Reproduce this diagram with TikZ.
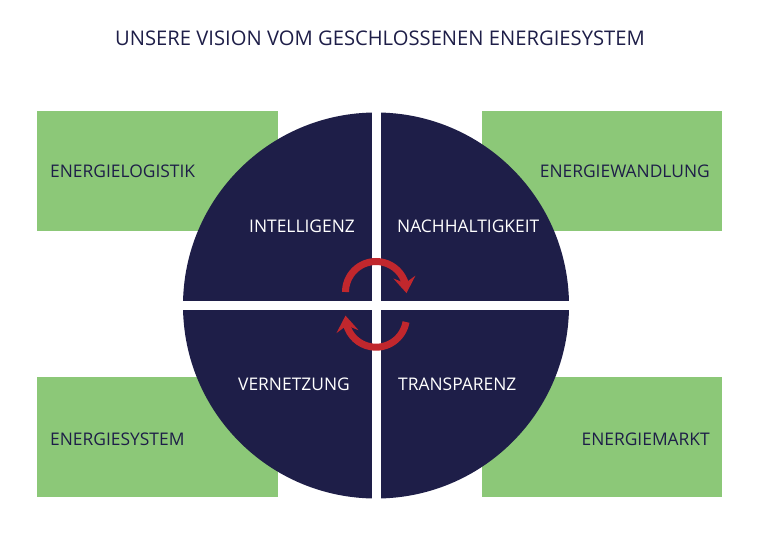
\documentclass[tikz,border=0pt]{standalone}
\usepackage{fontspec}
\setmainfont{Open Sans}
\usetikzlibrary{arrows.meta,bending}
\definecolor{navy}{HTML}{1E1E48}
\definecolor{leaf}{HTML}{8CC878}
\definecolor{redarrow}{HTML}{C1272D}
\begin{document}
\begin{tikzpicture}[x=1pt,y=-1pt,
  greenbox/.style={fill=leaf,draw=none},
  darklabel/.style={text=navy,font=\fontsize{17.4}{20}\selectfont,inner sep=0pt},
  lightlabel/.style={text=white,font=\fontsize{17.4}{20}\selectfont,inner sep=0pt},
  cyclearrow/.style={draw=redarrow,line width=7pt,-{Stealth[length=16pt,width=22pt,inset=6pt,flex]}}]
\useasboundingbox (0,0) rectangle (760,535);
% title
\node[text=navy,font=\fontsize{20.2}{24}\selectfont,inner sep=0pt] (title) at (380,38) {UNSERE VISION VOM GESCHLOSSENEN ENERGIESYSTEM};
% green boxes
\fill[greenbox] (37,111) rectangle (278,231);
\fill[greenbox] (482,111) rectangle (722,231);
\fill[greenbox] (37,377) rectangle (278,497);
\fill[greenbox] (482,377) rectangle (722,497);
% circle quadrants
\coordinate (c) at (376,305.5);
\fill[navy] (c) circle[radius=193];
\begin{scope}
\clip (c) circle[radius=194];
\fill[white] (371.5,100) rectangle (380.5,510);
\fill[white] (170,301) rectangle (580,310);
\end{scope}
% labels
\node[darklabel,anchor=west] (logistik) at (50,171) {ENERGIELOGISTIK};
\node[darklabel,anchor=east] (wandlung) at (710,171) {ENERGIEWANDLUNG};
\node[darklabel,anchor=west] (system) at (50,439) {ENERGIESYSTEM};
\node[darklabel,anchor=east] (markt) at (710,439) {ENERGIEMARKT};
\node[lightlabel,anchor=east] (intel) at (355,226) {INTELLIGENZ};
\node[lightlabel,anchor=west] (nach) at (397,226) {NACHHALTIGKEIT};
\node[lightlabel,anchor=east] (vern) at (350,384) {VERNETZUNG};
\node[lightlabel,anchor=west] (trans) at (398,384) {TRANSPARENZ};
% arrows
\coordinate (upstart) at (345.5,292);
\coordinate (lowstart) at (406,322);
\draw[cyclearrow] (upstart) arc[start angle=180,end angle=362,radius=30.5];
\draw[cyclearrow] (lowstart) arc[start angle=10,end angle=182,radius=30.5];
\end{tikzpicture}
\end{document}
